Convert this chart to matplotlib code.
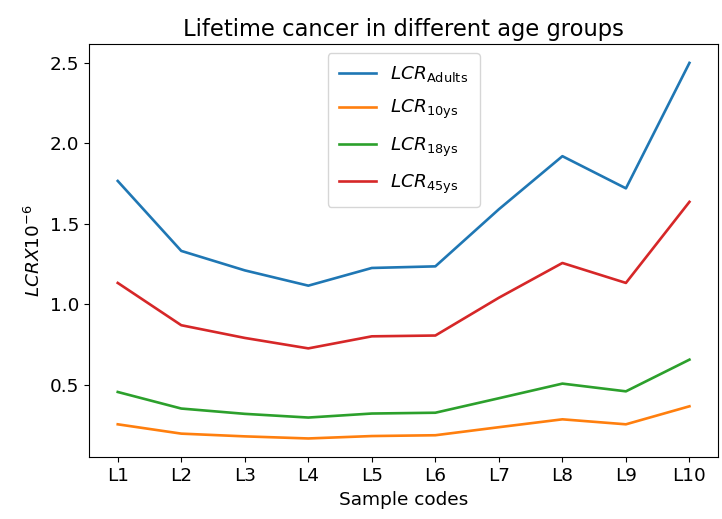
import matplotlib
matplotlib.use("Agg")
import matplotlib.pyplot as plt

# === DATOS ===
samples = ["L1", "L2", "L3", "L4", "L5", "L6", "L7", "L8", "L9", "L10"]
lcr_adults = [1.766, 1.331, 1.21, 1.115, 1.225, 1.235, 1.59, 1.92, 1.72, 2.50]
lcr_10ys = [0.253, 0.195, 0.178, 0.165, 0.18, 0.185, 0.235, 0.284, 0.253, 0.365]
lcr_18ys = [0.454, 0.351, 0.318, 0.295, 0.32, 0.325, 0.415, 0.506, 0.458, 0.655]
lcr_45ys = [1.132, 0.869, 0.79, 0.725, 0.80, 0.805, 1.04, 1.256, 1.132, 1.636]

plt.rcParams["font.size"] = 13.3

fig = plt.figure(figsize=(7.22, 5.19), dpi=100)
ax = fig.add_axes([0.1235, 0.119, 0.871, 0.796])

ax.plot(samples, lcr_adults, label=r"$LCR_{\mathrm{Adults}}$", lw=1.9)
ax.plot(samples, lcr_10ys, label=r"$LCR_{\mathrm{10ys}}$", lw=1.9)
ax.plot(samples, lcr_18ys, label=r"$LCR_{\mathrm{18ys}}$", lw=1.9)
ax.plot(samples, lcr_45ys, label=r"$LCR_{\mathrm{45ys}}$", lw=1.9)

ax.set_title("Lifetime cancer in different age groups", fontsize=16.3)
ax.set_xlabel("Sample codes")
ax.set_ylabel(r"$LCR X10^{-6}$")
ax.legend(loc="upper center", borderpad=0.6, labelspacing=0.75)

fig.savefig("out.png")
